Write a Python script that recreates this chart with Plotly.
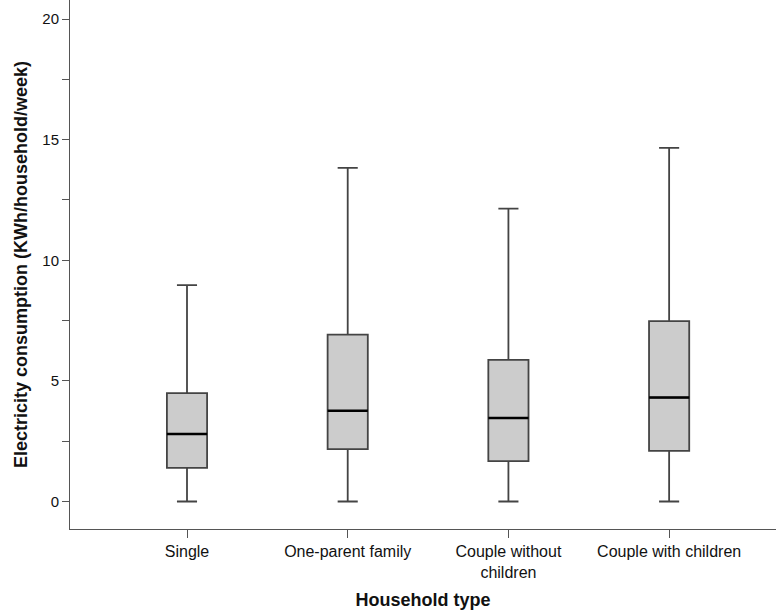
import plotly.graph_objects as go

categories = ["Single", "One-parent family", "Couple without<br>children", "Couple with children"]
lower_whisker = [0.0, 0.0, 0.0, 0.0]
q1_values = [1.39, 2.17, 1.67, 2.10]
median_values = [2.80, 3.76, 3.46, 4.31]
q3_values = [4.49, 6.92, 5.87, 7.48]
upper_whisker = [8.97, 13.83, 12.14, 14.66]
y_ticks = [0, 5, 10, 15, 20]

fig = go.Figure()
fig.add_trace(go.Box(
    x=categories, q1=q1_values, median=median_values, q3=q3_values,
    lowerfence=lower_whisker, upperfence=upper_whisker,
    fillcolor="#cccccc", line=dict(color="#444444", width=1.8),
    width=0.25, whiskerwidth=0.5, boxpoints=False, hoverinfo="skip",
    showlegend=False,
))
# thick black median line overlay
fig.add_trace(go.Box(
    x=categories, q1=median_values, median=median_values, q3=median_values,
    lowerfence=median_values, upperfence=median_values,
    fillcolor="rgba(0,0,0,0)", line=dict(color="#000000", width=2.6),
    width=0.25, whiskerwidth=0, boxpoints=False, hoverinfo="skip",
    showlegend=False,
))

fig.update_layout(
    width=776, height=612,
    margin=dict(l=70, r=0, t=0, b=83),
    plot_bgcolor="white", paper_bgcolor="white",
    font=dict(family="Liberation Sans, Arial, sans-serif", size=16, color="#111111"),
    boxmode="overlay",
    showlegend=False,
)
fig.update_xaxes(
    range=[-0.728, 3.665], showgrid=False, zeroline=False,
    showline=True, linecolor="#555555", linewidth=1,
    ticks="outside", ticklen=8, tickcolor="#555555",
    tickfont=dict(size=16),
    title=dict(text="<b>Household type</b>", font=dict(size=18, color="#111111"), standoff=13),
    automargin=False,
)
fig.update_yaxes(
    range=[-1.14, 20.79], showgrid=False, zeroline=False,
    showline=True, linecolor="#555555", linewidth=1,
    tickvals=y_ticks, ticks="outside", ticklen=7, tickcolor="#555555",
    tickfont=dict(size=15),
    minor=dict(dtick=2.5, ticks="outside", ticklen=7, tickcolor="#555555", tick0=0),
    title=dict(text="<b>Electricity consumption (KWh/household/week)</b>", font=dict(size=18, color="#111111"), standoff=10),
    automargin=False,
)

fig.write_html("out.html", config={"displayModeBar": False},
               post_script="document.body.style.margin='0';")
